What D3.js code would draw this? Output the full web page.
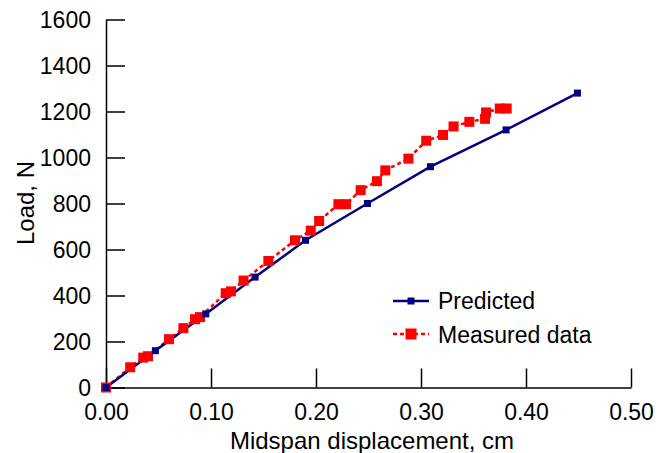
<!DOCTYPE html>
<html>
<head>
<meta charset="utf-8">
<script src="https://cdn.jsdelivr.net/npm/d3@7"></script>
<style>
  html, body { margin: 0; padding: 0; background: #fff; }
  svg text { font-family: Arial, "Liberation Sans", sans-serif; fill: #000; }
</style>
</head>
<body>
<svg id="chart" width="660" height="453"></svg>
<script>
// ---- data ----
const predX = [0, 0.047, 0.095, 0.142, 0.19, 0.249, 0.309, 0.381, 0.449];
const predY = [0, 160, 320, 480, 640, 800, 960, 1120, 1280];

const measX = [0, 0.023, 0.0355, 0.040, 0.060, 0.0737, 0.0848, 0.0895, 0.114, 0.119, 0.131, 0.1546, 0.180, 0.195, 0.203, 0.2213, 0.2286, 0.2425, 0.258, 0.266, 0.288, 0.305, 0.321, 0.331, 0.346, 0.361, 0.362, 0.375, 0.3816];
const measY = [0, 88, 130, 136, 210, 258, 297, 306, 410, 418, 465, 550, 640, 682, 724, 797, 797, 858, 897, 944, 995, 1073, 1098, 1135, 1155, 1168, 1196, 1213, 1213];

const xTicks = [0, 0.1, 0.2, 0.3, 0.4, 0.5];
const yTicks = [0, 200, 400, 600, 800, 1000, 1200, 1400, 1600];
const seriesNames = ["Predicted", "Measured data"];
const xTitle = "Midspan displacement, cm";
const yTitle = "Load, N";

// ---- chart ----
const svg = d3.select("#chart");
const x = d3.scaleLinear().domain([0, 0.5]).range([106, 631]);
const y = d3.scaleLinear().domain([0, 1600]).range([387.5, 19.5]);

const FS = 23;

// axes
const xAxis = d3.axisBottom(x).tickValues(xTicks).tickFormat(d3.format(".2f"))
  .tickSizeInner(-19).tickSizeOuter(0).tickPadding(0);
const gx = svg.append("g").attr("transform", `translate(0,${y(0)})`).call(xAxis);
gx.select(".domain").attr("stroke", "#000").attr("stroke-width", 1.5);
gx.selectAll(".tick line").attr("stroke", "#000").attr("stroke-width", 1.5);
gx.selectAll(".tick text").attr("font-size", FS).attr("y", 16).attr("dy", "0.71em")
  .attr("font-family", "Arial, 'Liberation Sans', sans-serif");

const yAxis = d3.axisLeft(y).tickValues(yTicks).tickFormat(d3.format("d"))
  .tickSizeInner(-19).tickSizeOuter(0).tickPadding(0);
const gy = svg.append("g").attr("transform", `translate(${x(0)},0)`).call(yAxis);
gy.select(".domain").attr("stroke", "#000").attr("stroke-width", 1.5);
gy.selectAll(".tick line").attr("stroke", "#000").attr("stroke-width", 1.5);
gy.selectAll(".tick text").attr("font-size", FS).attr("x", -15).attr("dy", "0.36em")
  .attr("font-family", "Arial, 'Liberation Sans', sans-serif");

// axis titles
svg.append("text").attr("x", 372).attr("y", 449).attr("text-anchor", "middle")
  .attr("font-size", 24).text(xTitle);
svg.append("text").attr("transform", "translate(34,203) rotate(-90)")
  .attr("text-anchor", "middle").attr("font-size", 24).text(yTitle);

// series
const pred = predX.map((v, i) => [v, predY[i]]);
const meas = measX.map((v, i) => [v, measY[i]]);
const line = d3.line().x(d => x(d[0])).y(d => y(d[1]));

svg.append("path").datum(meas).attr("d", line).attr("fill", "none")
  .attr("stroke", "#ff0000").attr("stroke-width", 2.5).attr("stroke-dasharray", "4,3");
svg.append("path").datum(pred).attr("d", line).attr("fill", "none")
  .attr("stroke", "#000080").attr("stroke-width", 2.5);

const mS = 10, pS = 7;
svg.append("g").selectAll("rect").data(meas).join("rect")
  .attr("x", d => x(d[0]) - mS / 2).attr("y", d => y(d[1]) - mS / 2)
  .attr("width", mS).attr("height", mS).attr("fill", "#ff0000");
svg.append("g").selectAll("rect").data(pred).join("rect")
  .attr("x", d => x(d[0]) - pS / 2).attr("y", d => y(d[1]) - pS / 2)
  .attr("width", pS).attr("height", pS).attr("fill", "#000080");

// legend
const leg = svg.append("g");
const legItems = [
  {name: seriesNames[0], color: "#000080", dash: null, w: 2.5, size: pS, ly: 301, ty: 309},
  {name: seriesNames[1], color: "#ff0000", dash: "4,3", w: 2.5, size: 11, ly: 334, ty: 343}
];
legItems.forEach(it => {
  leg.append("line").attr("x1", 393).attr("x2", 429).attr("y1", it.ly).attr("y2", it.ly)
    .attr("stroke", it.color).attr("stroke-width", it.w)
    .attr("stroke-dasharray", it.dash);
  leg.append("rect").attr("x", 411 - it.size / 2).attr("y", it.ly - it.size / 2)
    .attr("width", it.size).attr("height", it.size).attr("fill", it.color);
  leg.append("text").attr("x", 438).attr("y", it.ty).attr("font-size", FS).text(it.name);
});
</script>
</body>
</html>
